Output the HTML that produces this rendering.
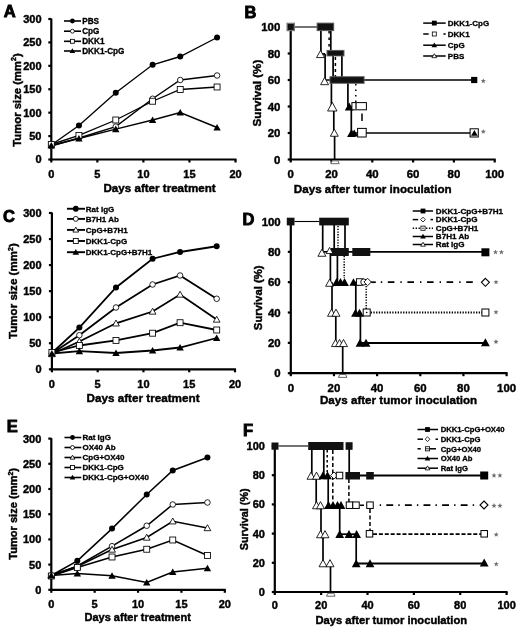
<!DOCTYPE html>
<html><head><meta charset="utf-8"><style>
html,body{margin:0;padding:0;background:#fff;}
svg{display:block;font-family:"Liberation Sans", sans-serif;filter:grayscale(1) blur(0.3px);}
</style></head><body>
<svg width="520" height="632" viewBox="0 0 520 632">
<rect width="520" height="632" fill="#fff"/>
<text x="3.80" y="16.70" font-size="16.5" text-anchor="start" fill="#000" font-weight="bold" stroke="#000" stroke-width="0.9">A</text>
<line x1="51.30" y1="18.50" x2="51.30" y2="160.60" stroke="#000" stroke-width="2.2" stroke-linecap="butt"/>
<line x1="50.20" y1="159.50" x2="236.50" y2="159.50" stroke="#000" stroke-width="2.2" stroke-linecap="butt"/>
<line x1="48.30" y1="159.50" x2="51.30" y2="159.50" stroke="#000" stroke-width="2.2" stroke-linecap="butt"/>
<text x="41.50" y="163.40" font-size="11" text-anchor="end" fill="#000" font-weight="bold" stroke="#000" stroke-width="0.42">0</text>
<line x1="48.30" y1="136.08" x2="51.30" y2="136.08" stroke="#000" stroke-width="2.2" stroke-linecap="butt"/>
<text x="41.50" y="139.98" font-size="11" text-anchor="end" fill="#000" font-weight="bold" stroke="#000" stroke-width="0.42">50</text>
<line x1="48.30" y1="112.67" x2="51.30" y2="112.67" stroke="#000" stroke-width="2.2" stroke-linecap="butt"/>
<text x="41.50" y="116.57" font-size="11" text-anchor="end" fill="#000" font-weight="bold" stroke="#000" stroke-width="0.42">100</text>
<line x1="48.30" y1="89.25" x2="51.30" y2="89.25" stroke="#000" stroke-width="2.2" stroke-linecap="butt"/>
<text x="41.50" y="93.15" font-size="11" text-anchor="end" fill="#000" font-weight="bold" stroke="#000" stroke-width="0.42">150</text>
<line x1="48.30" y1="65.83" x2="51.30" y2="65.83" stroke="#000" stroke-width="2.2" stroke-linecap="butt"/>
<text x="41.50" y="69.73" font-size="11" text-anchor="end" fill="#000" font-weight="bold" stroke="#000" stroke-width="0.42">200</text>
<line x1="48.30" y1="42.42" x2="51.30" y2="42.42" stroke="#000" stroke-width="2.2" stroke-linecap="butt"/>
<text x="41.50" y="46.32" font-size="11" text-anchor="end" fill="#000" font-weight="bold" stroke="#000" stroke-width="0.42">250</text>
<line x1="48.30" y1="19.00" x2="51.30" y2="19.00" stroke="#000" stroke-width="2.2" stroke-linecap="butt"/>
<text x="41.50" y="22.90" font-size="11" text-anchor="end" fill="#000" font-weight="bold" stroke="#000" stroke-width="0.42">300</text>
<line x1="51.30" y1="159.50" x2="51.30" y2="162.50" stroke="#000" stroke-width="2.2" stroke-linecap="butt"/>
<text x="51.30" y="177.70" font-size="11" text-anchor="middle" fill="#000" font-weight="bold" stroke="#000" stroke-width="0.42">0</text>
<line x1="97.35" y1="159.50" x2="97.35" y2="162.50" stroke="#000" stroke-width="2.2" stroke-linecap="butt"/>
<text x="97.35" y="177.70" font-size="11" text-anchor="middle" fill="#000" font-weight="bold" stroke="#000" stroke-width="0.42">5</text>
<line x1="143.40" y1="159.50" x2="143.40" y2="162.50" stroke="#000" stroke-width="2.2" stroke-linecap="butt"/>
<text x="143.40" y="177.70" font-size="11" text-anchor="middle" fill="#000" font-weight="bold" stroke="#000" stroke-width="0.42">10</text>
<line x1="189.45" y1="159.50" x2="189.45" y2="162.50" stroke="#000" stroke-width="2.2" stroke-linecap="butt"/>
<text x="189.45" y="177.70" font-size="11" text-anchor="middle" fill="#000" font-weight="bold" stroke="#000" stroke-width="0.42">15</text>
<line x1="235.50" y1="159.50" x2="235.50" y2="162.50" stroke="#000" stroke-width="2.2" stroke-linecap="butt"/>
<text x="235.50" y="177.70" font-size="11" text-anchor="middle" fill="#000" font-weight="bold" stroke="#000" stroke-width="0.42">20</text>
<text x="103.50" y="191.50" font-size="11.6" text-anchor="start" fill="#000" font-weight="bold" stroke="#000" stroke-width="0.42">Days after treatment</text>
<text x="20.7" y="100.0" font-size="11.3" font-weight="bold" stroke="#000" stroke-width="0.42" text-anchor="middle" transform="rotate(-90 20.7 100.0)">Tumor size (mm<tspan font-size="7" dy="-4.5">2</tspan><tspan dy="4.5">)</tspan></text>
<polyline points="51.30,145.00 78.93,125.50 115.77,92.75 152.61,64.75 180.24,56.50 217.08,37.50" fill="none" stroke="#000" stroke-width="1.35" stroke-linejoin="miter"/>
<polyline points="51.30,146.00 78.93,138.00 115.77,126.60 152.61,98.75 180.24,80.00 217.08,75.50" fill="none" stroke="#000" stroke-width="1.35" stroke-linejoin="miter"/>
<polyline points="51.30,144.50 78.93,135.40 115.77,120.00 152.61,101.25 180.24,89.50 217.08,87.00" fill="none" stroke="#000" stroke-width="1.35" stroke-linejoin="miter"/>
<polyline points="51.30,145.50 78.93,138.50 115.77,129.20 152.61,120.00 180.24,112.50 217.08,127.50" fill="none" stroke="#000" stroke-width="1.35" stroke-linejoin="miter"/>
<circle cx="51.30" cy="145.00" r="3.00" fill="#000"/>
<circle cx="78.93" cy="125.50" r="3.00" fill="#000"/>
<circle cx="115.77" cy="92.75" r="3.00" fill="#000"/>
<circle cx="152.61" cy="64.75" r="3.00" fill="#000"/>
<circle cx="180.24" cy="56.50" r="3.00" fill="#000"/>
<circle cx="217.08" cy="37.50" r="3.00" fill="#000"/>
<circle cx="51.30" cy="146.00" r="2.78" fill="#fff" stroke="#000" stroke-width="0.85"/>
<circle cx="78.93" cy="138.00" r="2.78" fill="#fff" stroke="#000" stroke-width="0.85"/>
<circle cx="115.77" cy="126.60" r="2.78" fill="#fff" stroke="#000" stroke-width="0.85"/>
<circle cx="152.61" cy="98.75" r="2.78" fill="#fff" stroke="#000" stroke-width="0.85"/>
<circle cx="180.24" cy="80.00" r="2.78" fill="#fff" stroke="#000" stroke-width="0.85"/>
<circle cx="217.08" cy="75.50" r="2.78" fill="#fff" stroke="#000" stroke-width="0.85"/>
<rect x="48.32" y="141.53" width="5.95" height="5.95" fill="#fff" stroke="#000" stroke-width="0.85"/>
<rect x="75.95" y="132.43" width="5.95" height="5.95" fill="#fff" stroke="#000" stroke-width="0.85"/>
<rect x="112.79" y="117.02" width="5.95" height="5.95" fill="#fff" stroke="#000" stroke-width="0.85"/>
<rect x="149.63" y="98.27" width="5.95" height="5.95" fill="#fff" stroke="#000" stroke-width="0.85"/>
<rect x="177.27" y="86.52" width="5.95" height="5.95" fill="#fff" stroke="#000" stroke-width="0.85"/>
<rect x="214.10" y="84.02" width="5.95" height="5.95" fill="#fff" stroke="#000" stroke-width="0.85"/>
<polygon points="51.30,141.90 55.00,148.50 47.60,148.50" fill="#000"/>
<polygon points="78.93,134.90 82.63,141.50 75.23,141.50" fill="#000"/>
<polygon points="115.77,125.60 119.47,132.20 112.07,132.20" fill="#000"/>
<polygon points="152.61,116.40 156.31,123.00 148.91,123.00" fill="#000"/>
<polygon points="180.24,108.90 183.94,115.50 176.54,115.50" fill="#000"/>
<polygon points="217.08,123.90 220.78,130.50 213.38,130.50" fill="#000"/>
<line x1="64.00" y1="21.00" x2="81.00" y2="21.00" stroke="#000" stroke-width="1.6" stroke-linecap="butt"/>
<circle cx="72.40" cy="21.00" r="2.40" fill="#000"/>
<text x="82.20" y="23.90" font-size="8.2" text-anchor="start" fill="#000" font-weight="bold" stroke="#000" stroke-width="0.3">PBS</text>
<line x1="64.00" y1="31.20" x2="81.00" y2="31.20" stroke="#000" stroke-width="1.6" stroke-linecap="butt"/>
<circle cx="72.40" cy="31.20" r="1.97" fill="#fff" stroke="#000" stroke-width="0.85"/>
<text x="82.20" y="34.10" font-size="8.2" text-anchor="start" fill="#000" font-weight="bold" stroke="#000" stroke-width="0.3">CpG</text>
<line x1="64.00" y1="41.30" x2="81.00" y2="41.30" stroke="#000" stroke-width="1.6" stroke-linecap="butt"/>
<rect x="70.42" y="39.32" width="3.95" height="3.95" fill="#fff" stroke="#000" stroke-width="0.85"/>
<text x="82.20" y="44.20" font-size="8.2" text-anchor="start" fill="#000" font-weight="bold" stroke="#000" stroke-width="0.3">DKK1</text>
<line x1="64.00" y1="51.00" x2="81.00" y2="51.00" stroke="#000" stroke-width="1.6" stroke-linecap="butt"/>
<polygon points="72.40,48.30 75.20,53.10 69.60,53.10" fill="#000"/>
<text x="82.20" y="53.90" font-size="8.2" text-anchor="start" fill="#000" font-weight="bold" stroke="#000" stroke-width="0.3">DKK1-CpG</text>
<text x="3.00" y="222.30" font-size="16.5" text-anchor="start" fill="#000" font-weight="bold" stroke="#000" stroke-width="0.9">C</text>
<line x1="51.90" y1="212.50" x2="51.90" y2="370.40" stroke="#000" stroke-width="2.2" stroke-linecap="butt"/>
<line x1="50.80" y1="369.30" x2="236.00" y2="369.30" stroke="#000" stroke-width="2.2" stroke-linecap="butt"/>
<line x1="48.90" y1="369.30" x2="51.90" y2="369.30" stroke="#000" stroke-width="2.2" stroke-linecap="butt"/>
<text x="41.50" y="373.20" font-size="11" text-anchor="end" fill="#000" font-weight="bold" stroke="#000" stroke-width="0.42">0</text>
<line x1="48.90" y1="343.25" x2="51.90" y2="343.25" stroke="#000" stroke-width="2.2" stroke-linecap="butt"/>
<text x="41.50" y="347.15" font-size="11" text-anchor="end" fill="#000" font-weight="bold" stroke="#000" stroke-width="0.42">50</text>
<line x1="48.90" y1="317.20" x2="51.90" y2="317.20" stroke="#000" stroke-width="2.2" stroke-linecap="butt"/>
<text x="41.50" y="321.10" font-size="11" text-anchor="end" fill="#000" font-weight="bold" stroke="#000" stroke-width="0.42">100</text>
<line x1="48.90" y1="291.15" x2="51.90" y2="291.15" stroke="#000" stroke-width="2.2" stroke-linecap="butt"/>
<text x="41.50" y="295.05" font-size="11" text-anchor="end" fill="#000" font-weight="bold" stroke="#000" stroke-width="0.42">150</text>
<line x1="48.90" y1="265.10" x2="51.90" y2="265.10" stroke="#000" stroke-width="2.2" stroke-linecap="butt"/>
<text x="41.50" y="269.00" font-size="11" text-anchor="end" fill="#000" font-weight="bold" stroke="#000" stroke-width="0.42">200</text>
<line x1="48.90" y1="239.05" x2="51.90" y2="239.05" stroke="#000" stroke-width="2.2" stroke-linecap="butt"/>
<text x="41.50" y="242.95" font-size="11" text-anchor="end" fill="#000" font-weight="bold" stroke="#000" stroke-width="0.42">250</text>
<line x1="48.90" y1="213.00" x2="51.90" y2="213.00" stroke="#000" stroke-width="2.2" stroke-linecap="butt"/>
<text x="41.50" y="216.90" font-size="11" text-anchor="end" fill="#000" font-weight="bold" stroke="#000" stroke-width="0.42">300</text>
<line x1="51.90" y1="369.30" x2="51.90" y2="372.30" stroke="#000" stroke-width="2.2" stroke-linecap="butt"/>
<text x="51.90" y="387.70" font-size="11" text-anchor="middle" fill="#000" font-weight="bold" stroke="#000" stroke-width="0.42">0</text>
<line x1="97.67" y1="369.30" x2="97.67" y2="372.30" stroke="#000" stroke-width="2.2" stroke-linecap="butt"/>
<text x="97.67" y="387.70" font-size="11" text-anchor="middle" fill="#000" font-weight="bold" stroke="#000" stroke-width="0.42">5</text>
<line x1="143.45" y1="369.30" x2="143.45" y2="372.30" stroke="#000" stroke-width="2.2" stroke-linecap="butt"/>
<text x="143.45" y="387.70" font-size="11" text-anchor="middle" fill="#000" font-weight="bold" stroke="#000" stroke-width="0.42">10</text>
<line x1="189.22" y1="369.30" x2="189.22" y2="372.30" stroke="#000" stroke-width="2.2" stroke-linecap="butt"/>
<text x="189.22" y="387.70" font-size="11" text-anchor="middle" fill="#000" font-weight="bold" stroke="#000" stroke-width="0.42">15</text>
<line x1="235.00" y1="369.30" x2="235.00" y2="372.30" stroke="#000" stroke-width="2.2" stroke-linecap="butt"/>
<text x="235.00" y="387.70" font-size="11" text-anchor="middle" fill="#000" font-weight="bold" stroke="#000" stroke-width="0.42">20</text>
<text x="86.50" y="401.50" font-size="11.7" text-anchor="start" fill="#000" font-weight="bold" stroke="#000" stroke-width="0.42">Days after treatment</text>
<text x="17.2" y="291.1" font-size="11.6" font-weight="bold" stroke="#000" stroke-width="0.42" text-anchor="middle" transform="rotate(-90 17.2 291.1)">Tumor size (mm<tspan font-size="7" dy="-4.5">2</tspan><tspan dy="4.5">)</tspan></text>
<polyline points="51.90,353.00 79.36,327.60 115.99,287.50 152.60,258.75 180.07,252.00 216.69,246.25" fill="none" stroke="#000" stroke-width="1.8" stroke-linejoin="miter"/>
<polyline points="51.90,353.50 79.36,335.20 115.99,307.50 152.60,284.50 180.07,275.50 216.69,298.75" fill="none" stroke="#000" stroke-width="1.8" stroke-linejoin="miter"/>
<polyline points="51.90,354.00 79.36,341.50 115.99,323.30 152.60,311.50 180.07,294.50 216.69,319.50" fill="none" stroke="#000" stroke-width="1.8" stroke-linejoin="miter"/>
<polyline points="51.90,352.50 79.36,345.50 115.99,340.40 152.60,333.20 180.07,322.70 216.69,330.00" fill="none" stroke="#000" stroke-width="1.8" stroke-linejoin="miter"/>
<polyline points="51.90,353.50 79.36,351.20 115.99,353.00 152.60,350.50 180.07,347.50 216.69,338.00" fill="none" stroke="#000" stroke-width="1.8" stroke-linejoin="miter"/>
<circle cx="51.90" cy="353.00" r="3.00" fill="#000"/>
<circle cx="79.36" cy="327.60" r="3.00" fill="#000"/>
<circle cx="115.99" cy="287.50" r="3.00" fill="#000"/>
<circle cx="152.60" cy="258.75" r="3.00" fill="#000"/>
<circle cx="180.07" cy="252.00" r="3.00" fill="#000"/>
<circle cx="216.69" cy="246.25" r="3.00" fill="#000"/>
<circle cx="51.90" cy="353.50" r="2.78" fill="#fff" stroke="#000" stroke-width="0.85"/>
<circle cx="79.36" cy="335.20" r="2.78" fill="#fff" stroke="#000" stroke-width="0.85"/>
<circle cx="115.99" cy="307.50" r="2.78" fill="#fff" stroke="#000" stroke-width="0.85"/>
<circle cx="152.60" cy="284.50" r="2.78" fill="#fff" stroke="#000" stroke-width="0.85"/>
<circle cx="180.07" cy="275.50" r="2.78" fill="#fff" stroke="#000" stroke-width="0.85"/>
<circle cx="216.69" cy="298.75" r="2.78" fill="#fff" stroke="#000" stroke-width="0.85"/>
<polygon points="51.90,350.73 55.27,356.67 48.52,356.67" fill="#fff" stroke="#000" stroke-width="0.85"/>
<polygon points="79.36,338.23 82.74,344.17 75.99,344.17" fill="#fff" stroke="#000" stroke-width="0.85"/>
<polygon points="115.99,320.03 119.36,325.97 112.61,325.97" fill="#fff" stroke="#000" stroke-width="0.85"/>
<polygon points="152.60,308.23 155.98,314.17 149.23,314.17" fill="#fff" stroke="#000" stroke-width="0.85"/>
<polygon points="180.07,291.23 183.45,297.17 176.70,297.17" fill="#fff" stroke="#000" stroke-width="0.85"/>
<polygon points="216.69,316.23 220.06,322.17 213.31,322.17" fill="#fff" stroke="#000" stroke-width="0.85"/>
<rect x="48.92" y="349.53" width="5.95" height="5.95" fill="#fff" stroke="#000" stroke-width="0.85"/>
<rect x="76.39" y="342.53" width="5.95" height="5.95" fill="#fff" stroke="#000" stroke-width="0.85"/>
<rect x="113.01" y="337.43" width="5.95" height="5.95" fill="#fff" stroke="#000" stroke-width="0.85"/>
<rect x="149.63" y="330.23" width="5.95" height="5.95" fill="#fff" stroke="#000" stroke-width="0.85"/>
<rect x="177.10" y="319.73" width="5.95" height="5.95" fill="#fff" stroke="#000" stroke-width="0.85"/>
<rect x="213.72" y="327.03" width="5.95" height="5.95" fill="#fff" stroke="#000" stroke-width="0.85"/>
<polygon points="51.90,349.90 55.60,356.50 48.20,356.50" fill="#000"/>
<polygon points="79.36,347.60 83.06,354.20 75.66,354.20" fill="#000"/>
<polygon points="115.99,349.40 119.69,356.00 112.29,356.00" fill="#000"/>
<polygon points="152.60,346.90 156.31,353.50 148.90,353.50" fill="#000"/>
<polygon points="180.07,343.90 183.77,350.50 176.37,350.50" fill="#000"/>
<polygon points="216.69,334.40 220.39,341.00 212.99,341.00" fill="#000"/>
<line x1="67.00" y1="208.75" x2="85.00" y2="208.75" stroke="#000" stroke-width="1.9" stroke-linecap="butt"/>
<circle cx="75.80" cy="208.75" r="2.90" fill="#000"/>
<text x="85.80" y="211.65" font-size="8" text-anchor="start" fill="#000" font-weight="bold" stroke="#000" stroke-width="0.3">Rat IgG</text>
<line x1="67.00" y1="218.90" x2="85.00" y2="218.90" stroke="#000" stroke-width="1.9" stroke-linecap="butt"/>
<circle cx="75.80" cy="218.90" r="2.48" fill="#fff" stroke="#000" stroke-width="0.85"/>
<text x="85.80" y="221.80" font-size="8" text-anchor="start" fill="#000" font-weight="bold" stroke="#000" stroke-width="0.3">B7H1 Ab</text>
<line x1="67.00" y1="229.90" x2="85.00" y2="229.90" stroke="#000" stroke-width="1.9" stroke-linecap="butt"/>
<polygon points="75.80,227.12 78.68,232.07 72.92,232.07" fill="#fff" stroke="#000" stroke-width="0.85"/>
<text x="85.80" y="232.80" font-size="8" text-anchor="start" fill="#000" font-weight="bold" stroke="#000" stroke-width="0.3">CpG+B7H1</text>
<line x1="67.00" y1="241.00" x2="85.00" y2="241.00" stroke="#000" stroke-width="1.9" stroke-linecap="butt"/>
<rect x="73.32" y="238.53" width="4.95" height="4.95" fill="#fff" stroke="#000" stroke-width="0.85"/>
<text x="85.80" y="243.90" font-size="8" text-anchor="start" fill="#000" font-weight="bold" stroke="#000" stroke-width="0.3">DKK1-CpG</text>
<line x1="67.00" y1="252.20" x2="85.00" y2="252.20" stroke="#000" stroke-width="1.9" stroke-linecap="butt"/>
<polygon points="75.80,249.00 79.10,254.80 72.50,254.80" fill="#000"/>
<text x="85.80" y="255.10" font-size="8" text-anchor="start" fill="#000" font-weight="bold" stroke="#000" stroke-width="0.3">DKK1-CpG+B7H1</text>
<text x="6.80" y="432.20" font-size="16.5" text-anchor="start" fill="#000" font-weight="bold" stroke="#000" stroke-width="0.9">E</text>
<line x1="51.30" y1="438.10" x2="51.30" y2="590.90" stroke="#000" stroke-width="2.2" stroke-linecap="butt"/>
<line x1="50.20" y1="589.80" x2="225.80" y2="589.80" stroke="#000" stroke-width="2.2" stroke-linecap="butt"/>
<line x1="48.30" y1="589.80" x2="51.30" y2="589.80" stroke="#000" stroke-width="2.2" stroke-linecap="butt"/>
<text x="41.30" y="593.70" font-size="11" text-anchor="end" fill="#000" font-weight="bold" stroke="#000" stroke-width="0.42">0</text>
<line x1="48.30" y1="564.60" x2="51.30" y2="564.60" stroke="#000" stroke-width="2.2" stroke-linecap="butt"/>
<text x="41.30" y="568.50" font-size="11" text-anchor="end" fill="#000" font-weight="bold" stroke="#000" stroke-width="0.42">50</text>
<line x1="48.30" y1="539.40" x2="51.30" y2="539.40" stroke="#000" stroke-width="2.2" stroke-linecap="butt"/>
<text x="41.30" y="543.30" font-size="11" text-anchor="end" fill="#000" font-weight="bold" stroke="#000" stroke-width="0.42">100</text>
<line x1="48.30" y1="514.20" x2="51.30" y2="514.20" stroke="#000" stroke-width="2.2" stroke-linecap="butt"/>
<text x="41.30" y="518.10" font-size="11" text-anchor="end" fill="#000" font-weight="bold" stroke="#000" stroke-width="0.42">150</text>
<line x1="48.30" y1="489.00" x2="51.30" y2="489.00" stroke="#000" stroke-width="2.2" stroke-linecap="butt"/>
<text x="41.30" y="492.90" font-size="11" text-anchor="end" fill="#000" font-weight="bold" stroke="#000" stroke-width="0.42">200</text>
<line x1="48.30" y1="463.80" x2="51.30" y2="463.80" stroke="#000" stroke-width="2.2" stroke-linecap="butt"/>
<text x="41.30" y="467.70" font-size="11" text-anchor="end" fill="#000" font-weight="bold" stroke="#000" stroke-width="0.42">250</text>
<line x1="48.30" y1="438.60" x2="51.30" y2="438.60" stroke="#000" stroke-width="2.2" stroke-linecap="butt"/>
<text x="41.30" y="442.50" font-size="11" text-anchor="end" fill="#000" font-weight="bold" stroke="#000" stroke-width="0.42">300</text>
<line x1="51.30" y1="589.80" x2="51.30" y2="592.80" stroke="#000" stroke-width="2.2" stroke-linecap="butt"/>
<text x="51.30" y="608.20" font-size="11" text-anchor="middle" fill="#000" font-weight="bold" stroke="#000" stroke-width="0.42">0</text>
<line x1="94.67" y1="589.80" x2="94.67" y2="592.80" stroke="#000" stroke-width="2.2" stroke-linecap="butt"/>
<text x="94.67" y="608.20" font-size="11" text-anchor="middle" fill="#000" font-weight="bold" stroke="#000" stroke-width="0.42">5</text>
<line x1="138.05" y1="589.80" x2="138.05" y2="592.80" stroke="#000" stroke-width="2.2" stroke-linecap="butt"/>
<text x="138.05" y="608.20" font-size="11" text-anchor="middle" fill="#000" font-weight="bold" stroke="#000" stroke-width="0.42">10</text>
<line x1="181.43" y1="589.80" x2="181.43" y2="592.80" stroke="#000" stroke-width="2.2" stroke-linecap="butt"/>
<text x="181.43" y="608.20" font-size="11" text-anchor="middle" fill="#000" font-weight="bold" stroke="#000" stroke-width="0.42">15</text>
<line x1="224.80" y1="589.80" x2="224.80" y2="592.80" stroke="#000" stroke-width="2.2" stroke-linecap="butt"/>
<text x="224.80" y="608.20" font-size="11" text-anchor="middle" fill="#000" font-weight="bold" stroke="#000" stroke-width="0.42">20</text>
<text x="84.50" y="621.20" font-size="11.0" text-anchor="start" fill="#000" font-weight="bold" stroke="#000" stroke-width="0.42">Days after treatment</text>
<text x="17.4" y="513.9" font-size="11.1" font-weight="bold" stroke="#000" stroke-width="0.42" text-anchor="middle" transform="rotate(-90 17.4 513.9)">Tumor size (mm<tspan font-size="7" dy="-4.5">2</tspan><tspan dy="4.5">)</tspan></text>
<polyline points="51.30,575.50 77.32,560.80 112.03,528.60 146.72,494.50 172.75,470.50 207.45,457.50" fill="none" stroke="#000" stroke-width="1.55" stroke-linejoin="miter"/>
<polyline points="51.30,576.00 77.32,566.00 112.03,546.20 146.72,525.75 172.75,504.50 207.45,502.50" fill="none" stroke="#000" stroke-width="1.55" stroke-linejoin="miter"/>
<polyline points="51.30,575.00 77.32,566.50 112.03,549.50 146.72,537.50 172.75,521.25 207.45,528.00" fill="none" stroke="#000" stroke-width="1.55" stroke-linejoin="miter"/>
<polyline points="51.30,576.00 77.32,567.50 112.03,557.00 146.72,549.25 172.75,540.00 207.45,555.50" fill="none" stroke="#000" stroke-width="1.55" stroke-linejoin="miter"/>
<polyline points="51.30,575.50 77.32,573.50 112.03,575.80 146.72,582.50 172.75,572.00 207.45,568.25" fill="none" stroke="#000" stroke-width="1.55" stroke-linejoin="miter"/>
<circle cx="51.30" cy="575.50" r="3.00" fill="#000"/>
<circle cx="77.32" cy="560.80" r="3.00" fill="#000"/>
<circle cx="112.03" cy="528.60" r="3.00" fill="#000"/>
<circle cx="146.72" cy="494.50" r="3.00" fill="#000"/>
<circle cx="172.75" cy="470.50" r="3.00" fill="#000"/>
<circle cx="207.45" cy="457.50" r="3.00" fill="#000"/>
<circle cx="51.30" cy="576.00" r="2.78" fill="#fff" stroke="#000" stroke-width="0.85"/>
<circle cx="77.32" cy="566.00" r="2.78" fill="#fff" stroke="#000" stroke-width="0.85"/>
<circle cx="112.03" cy="546.20" r="2.78" fill="#fff" stroke="#000" stroke-width="0.85"/>
<circle cx="146.72" cy="525.75" r="2.78" fill="#fff" stroke="#000" stroke-width="0.85"/>
<circle cx="172.75" cy="504.50" r="2.78" fill="#fff" stroke="#000" stroke-width="0.85"/>
<circle cx="207.45" cy="502.50" r="2.78" fill="#fff" stroke="#000" stroke-width="0.85"/>
<polygon points="51.30,571.73 54.67,577.68 47.92,577.68" fill="#fff" stroke="#000" stroke-width="0.85"/>
<polygon points="77.32,563.23 80.70,569.18 73.95,569.18" fill="#fff" stroke="#000" stroke-width="0.85"/>
<polygon points="112.03,546.23 115.40,552.18 108.65,552.18" fill="#fff" stroke="#000" stroke-width="0.85"/>
<polygon points="146.72,534.23 150.10,540.18 143.35,540.18" fill="#fff" stroke="#000" stroke-width="0.85"/>
<polygon points="172.75,517.98 176.12,523.93 169.38,523.93" fill="#fff" stroke="#000" stroke-width="0.85"/>
<polygon points="207.45,524.73 210.82,530.68 204.07,530.68" fill="#fff" stroke="#000" stroke-width="0.85"/>
<rect x="48.32" y="573.02" width="5.95" height="5.95" fill="#fff" stroke="#000" stroke-width="0.85"/>
<rect x="74.35" y="564.52" width="5.95" height="5.95" fill="#fff" stroke="#000" stroke-width="0.85"/>
<rect x="109.05" y="554.02" width="5.95" height="5.95" fill="#fff" stroke="#000" stroke-width="0.85"/>
<rect x="143.75" y="546.27" width="5.95" height="5.95" fill="#fff" stroke="#000" stroke-width="0.85"/>
<rect x="169.78" y="537.02" width="5.95" height="5.95" fill="#fff" stroke="#000" stroke-width="0.85"/>
<rect x="204.47" y="552.52" width="5.95" height="5.95" fill="#fff" stroke="#000" stroke-width="0.85"/>
<polygon points="51.30,571.90 55.00,578.50 47.60,578.50" fill="#000"/>
<polygon points="77.32,569.90 81.02,576.50 73.62,576.50" fill="#000"/>
<polygon points="112.03,572.20 115.73,578.80 108.33,578.80" fill="#000"/>
<polygon points="146.72,578.90 150.43,585.50 143.02,585.50" fill="#000"/>
<polygon points="172.75,568.40 176.45,575.00 169.05,575.00" fill="#000"/>
<polygon points="207.45,564.65 211.15,571.25 203.75,571.25" fill="#000"/>
<line x1="64.50" y1="437.50" x2="81.30" y2="437.50" stroke="#000" stroke-width="1.6" stroke-linecap="butt"/>
<circle cx="72.50" cy="437.50" r="2.40" fill="#000"/>
<text x="82.50" y="440.40" font-size="8" text-anchor="start" fill="#000" font-weight="bold" stroke="#000" stroke-width="0.3">Rat IgG</text>
<line x1="64.50" y1="447.50" x2="81.30" y2="447.50" stroke="#000" stroke-width="1.6" stroke-linecap="butt"/>
<circle cx="72.50" cy="447.50" r="1.97" fill="#fff" stroke="#000" stroke-width="0.85"/>
<text x="82.50" y="450.40" font-size="8" text-anchor="start" fill="#000" font-weight="bold" stroke="#000" stroke-width="0.3">OX40 Ab</text>
<line x1="64.50" y1="457.50" x2="81.30" y2="457.50" stroke="#000" stroke-width="1.6" stroke-linecap="butt"/>
<polygon points="72.50,455.23 74.88,459.17 70.12,459.17" fill="#fff" stroke="#000" stroke-width="0.85"/>
<text x="82.50" y="460.40" font-size="8" text-anchor="start" fill="#000" font-weight="bold" stroke="#000" stroke-width="0.3">CpG+OX40</text>
<line x1="64.50" y1="467.50" x2="81.30" y2="467.50" stroke="#000" stroke-width="1.6" stroke-linecap="butt"/>
<rect x="70.52" y="465.53" width="3.95" height="3.95" fill="#fff" stroke="#000" stroke-width="0.85"/>
<text x="82.50" y="470.40" font-size="8" text-anchor="start" fill="#000" font-weight="bold" stroke="#000" stroke-width="0.3">DKK1-CpG</text>
<line x1="64.50" y1="477.50" x2="81.30" y2="477.50" stroke="#000" stroke-width="1.6" stroke-linecap="butt"/>
<polygon points="72.50,474.80 75.30,479.60 69.70,479.60" fill="#000"/>
<text x="82.50" y="480.40" font-size="8" text-anchor="start" fill="#000" font-weight="bold" stroke="#000" stroke-width="0.3">DKK1-CpG+OX40</text>
<text x="244.50" y="18.00" font-size="16.5" text-anchor="start" fill="#000" font-weight="bold" stroke="#000" stroke-width="0.9">B</text>
<line x1="290.70" y1="26.50" x2="290.70" y2="160.60" stroke="#000" stroke-width="2.2" stroke-linecap="butt"/>
<line x1="289.60" y1="159.50" x2="495.70" y2="159.50" stroke="#000" stroke-width="2.2" stroke-linecap="butt"/>
<line x1="287.70" y1="159.50" x2="290.70" y2="159.50" stroke="#000" stroke-width="2.2" stroke-linecap="butt"/>
<text x="280.30" y="163.54" font-size="11.4" text-anchor="end" fill="#000" font-weight="bold" stroke="#000" stroke-width="0.42">0</text>
<line x1="287.70" y1="133.00" x2="290.70" y2="133.00" stroke="#000" stroke-width="2.2" stroke-linecap="butt"/>
<text x="280.30" y="137.04" font-size="11.4" text-anchor="end" fill="#000" font-weight="bold" stroke="#000" stroke-width="0.42">20</text>
<line x1="287.70" y1="106.50" x2="290.70" y2="106.50" stroke="#000" stroke-width="2.2" stroke-linecap="butt"/>
<text x="280.30" y="110.54" font-size="11.4" text-anchor="end" fill="#000" font-weight="bold" stroke="#000" stroke-width="0.42">40</text>
<line x1="287.70" y1="80.00" x2="290.70" y2="80.00" stroke="#000" stroke-width="2.2" stroke-linecap="butt"/>
<text x="280.30" y="84.04" font-size="11.4" text-anchor="end" fill="#000" font-weight="bold" stroke="#000" stroke-width="0.42">60</text>
<line x1="287.70" y1="53.50" x2="290.70" y2="53.50" stroke="#000" stroke-width="2.2" stroke-linecap="butt"/>
<text x="280.30" y="57.54" font-size="11.4" text-anchor="end" fill="#000" font-weight="bold" stroke="#000" stroke-width="0.42">80</text>
<line x1="287.70" y1="27.00" x2="290.70" y2="27.00" stroke="#000" stroke-width="2.2" stroke-linecap="butt"/>
<text x="280.30" y="31.04" font-size="11.4" text-anchor="end" fill="#000" font-weight="bold" stroke="#000" stroke-width="0.42">100</text>
<line x1="290.70" y1="159.50" x2="290.70" y2="162.50" stroke="#000" stroke-width="2.2" stroke-linecap="butt"/>
<text x="290.70" y="177.90" font-size="11.4" text-anchor="middle" fill="#000" font-weight="bold" stroke="#000" stroke-width="0.42">0</text>
<line x1="331.50" y1="159.50" x2="331.50" y2="162.50" stroke="#000" stroke-width="2.2" stroke-linecap="butt"/>
<text x="331.50" y="177.90" font-size="11.4" text-anchor="middle" fill="#000" font-weight="bold" stroke="#000" stroke-width="0.42">20</text>
<line x1="372.30" y1="159.50" x2="372.30" y2="162.50" stroke="#000" stroke-width="2.2" stroke-linecap="butt"/>
<text x="372.30" y="177.90" font-size="11.4" text-anchor="middle" fill="#000" font-weight="bold" stroke="#000" stroke-width="0.42">40</text>
<line x1="413.10" y1="159.50" x2="413.10" y2="162.50" stroke="#000" stroke-width="2.2" stroke-linecap="butt"/>
<text x="413.10" y="177.90" font-size="11.4" text-anchor="middle" fill="#000" font-weight="bold" stroke="#000" stroke-width="0.42">60</text>
<line x1="453.90" y1="159.50" x2="453.90" y2="162.50" stroke="#000" stroke-width="2.2" stroke-linecap="butt"/>
<text x="453.90" y="177.90" font-size="11.4" text-anchor="middle" fill="#000" font-weight="bold" stroke="#000" stroke-width="0.42">80</text>
<line x1="494.70" y1="159.50" x2="494.70" y2="162.50" stroke="#000" stroke-width="2.2" stroke-linecap="butt"/>
<text x="494.70" y="177.90" font-size="11.4" text-anchor="middle" fill="#000" font-weight="bold" stroke="#000" stroke-width="0.42">100</text>
<text x="293.80" y="192.80" font-size="11.65" text-anchor="start" fill="#000" font-weight="bold" stroke="#000" stroke-width="0.42">Days after tumor inoculation</text>
<text x="261.0" y="93.1" font-size="11.7" font-weight="bold" stroke="#000" stroke-width="0.42" text-anchor="middle" transform="rotate(-90 261.0 93.1)">Survival (%)</text>
<line x1="295.00" y1="27.00" x2="318.00" y2="27.00" stroke="#000" stroke-width="1.1" stroke-linecap="butt"/>
<line x1="320.90" y1="27.00" x2="320.90" y2="53.90" stroke="#000" stroke-width="1.7" stroke-linecap="butt"/>
<line x1="320.90" y1="53.90" x2="325.10" y2="53.90" stroke="#000" stroke-width="1.7" stroke-linecap="butt"/>
<line x1="325.10" y1="53.90" x2="325.10" y2="80.00" stroke="#000" stroke-width="1.7" stroke-linecap="butt"/>
<line x1="330.80" y1="27.00" x2="330.80" y2="53.20" stroke="#000" stroke-width="1.7" stroke-linecap="butt"/>
<line x1="333.10" y1="53.20" x2="333.10" y2="80.00" stroke="#000" stroke-width="1.7" stroke-linecap="butt"/>
<line x1="341.90" y1="53.20" x2="341.90" y2="80.00" stroke="#000" stroke-width="1.7" stroke-linecap="butt"/>
<line x1="331.40" y1="80.00" x2="331.40" y2="106.50" stroke="#000" stroke-width="1.7" stroke-linecap="butt"/>
<line x1="331.40" y1="106.50" x2="333.80" y2="106.50" stroke="#000" stroke-width="1.7" stroke-linecap="butt"/>
<line x1="333.80" y1="106.50" x2="333.80" y2="133.00" stroke="#000" stroke-width="1.7" stroke-linecap="butt"/>
<line x1="333.80" y1="133.00" x2="334.60" y2="133.00" stroke="#000" stroke-width="1.7" stroke-linecap="butt"/>
<line x1="334.60" y1="133.00" x2="334.60" y2="159.50" stroke="#000" stroke-width="1.7" stroke-linecap="butt"/>
<line x1="347.90" y1="80.00" x2="347.90" y2="106.50" stroke="#000" stroke-width="1.7" stroke-linecap="butt"/>
<line x1="347.90" y1="106.50" x2="351.30" y2="106.50" stroke="#000" stroke-width="1.7" stroke-linecap="butt"/>
<line x1="351.30" y1="106.50" x2="351.30" y2="133.00" stroke="#000" stroke-width="1.7" stroke-linecap="butt"/>
<line x1="329.10" y1="31.00" x2="329.10" y2="50.00" stroke="#000" stroke-width="1.5" stroke-linecap="butt" stroke-dasharray="2.5 4"/>
<line x1="335.40" y1="57.00" x2="335.40" y2="77.00" stroke="#000" stroke-width="1.5" stroke-linecap="butt" stroke-dasharray="3 3"/>
<line x1="355.80" y1="84.00" x2="355.80" y2="102.00" stroke="#000" stroke-width="1.5" stroke-linecap="butt" stroke-dasharray="1.5 4"/>
<line x1="362.00" y1="113.50" x2="362.00" y2="121.00" stroke="#000" stroke-width="1.5" stroke-linecap="butt"/>
<line x1="325.00" y1="80.00" x2="474.50" y2="80.00" stroke="#000" stroke-width="1.5" stroke-linecap="butt"/>
<line x1="351.30" y1="133.00" x2="474.50" y2="133.00" stroke="#000" stroke-width="1.5" stroke-linecap="butt"/>
<rect x="286.50" y="22.70" width="8.50" height="8.50" fill="#777"/>
<rect x="287.80" y="24.00" width="5.90" height="5.90" fill="#111"/>
<rect x="316.60" y="22.60" width="17.60" height="8.50" fill="#666"/>
<rect x="317.60" y="23.60" width="15.60" height="6.50" fill="#111"/>
<rect x="326.50" y="49.90" width="18.00" height="6.50" fill="#666"/>
<rect x="327.50" y="50.90" width="16.00" height="4.70" fill="#111"/>
<rect x="329.50" y="76.20" width="35.10" height="7.60" fill="#555"/>
<rect x="330.50" y="77.20" width="33.10" height="5.60" fill="#111"/>
<polygon points="320.50,50.42 324.47,57.58 316.53,57.58" fill="#fff" stroke="#000" stroke-width="0.85"/>
<polygon points="324.60,77.53 328.57,84.68 320.63,84.68" fill="#fff" stroke="#000" stroke-width="0.85"/>
<polygon points="332.30,102.38 337.02,111.03 327.58,111.03" fill="#fff" stroke="#000" stroke-width="0.85"/>
<polygon points="334.30,129.12 338.27,136.27 330.33,136.27" fill="#fff" stroke="#000" stroke-width="0.85"/>
<polygon points="332.00,160.80 338.00,160.80 339.20,163.70 330.80,163.70" fill="#fff" stroke="#555" stroke-width="0.9"/>
<polygon points="349.20,102.50 353.60,110.50 344.80,110.50" fill="#000"/>
<polygon points="351.50,128.90 355.90,136.90 347.10,136.90" fill="#000"/>
<polygon points="354.20,129.40 358.10,136.40 350.30,136.40" fill="#000"/>
<rect x="351.40" y="102.10" width="15.50" height="8.20" fill="#000"/>
<rect x="352.40" y="103.10" width="13.50" height="6.20" fill="#fff"/>
<line x1="356.00" y1="103.00" x2="356.00" y2="109.00" stroke="#000" stroke-width="1.2" stroke-linecap="butt"/>
<rect x="357.60" y="128.40" width="8.60" height="8.60" fill="#fff" stroke="#000" stroke-width="1.0"/>
<rect x="471.10" y="76.90" width="6.20" height="6.20" fill="#000"/>
<rect x="470.10" y="128.80" width="8.20" height="8.20" fill="#fff" stroke="#000" stroke-width="1.0"/>
<polygon points="474.40,130.00 477.70,135.80 471.10,135.80" fill="#000"/>
<polygon points="483.30,78.30 483.98,80.07 485.87,80.17 484.39,81.36 484.89,83.18 483.30,82.15 481.71,83.18 482.21,81.36 480.73,80.17 482.62,80.07" fill="#6e6e6e"/>
<polygon points="483.30,128.90 483.98,130.67 485.87,130.77 484.39,131.96 484.89,133.78 483.30,132.75 481.71,133.78 482.21,131.96 480.73,130.77 482.62,130.67" fill="#6e6e6e"/>
<line x1="423.20" y1="23.10" x2="445.70" y2="23.10" stroke="#000" stroke-width="1.5" stroke-linecap="butt"/>
<rect x="431.90" y="20.70" width="4.80" height="4.80" fill="#000"/>
<text x="447.80" y="25.90" font-size="8" text-anchor="start" fill="#000" font-weight="bold" stroke="#000" stroke-width="0.3">DKK1-CpG</text>
<line x1="423.20" y1="34.00" x2="428.70" y2="34.00" stroke="#000" stroke-width="1.5" stroke-linecap="butt"/>
<line x1="443.40" y1="34.00" x2="445.70" y2="34.00" stroke="#000" stroke-width="1.5" stroke-linecap="butt"/>
<rect x="432.30" y="32.00" width="4.00" height="4.00" fill="#fff" stroke="#000" stroke-width="0.8"/>
<text x="447.80" y="36.80" font-size="8" text-anchor="start" fill="#000" font-weight="bold" stroke="#000" stroke-width="0.3">DKK1</text>
<line x1="423.20" y1="45.20" x2="445.70" y2="45.20" stroke="#000" stroke-width="1.5" stroke-linecap="butt"/>
<polygon points="434.30,42.50 437.10,47.30 431.50,47.30" fill="#000"/>
<text x="447.80" y="48.00" font-size="8" text-anchor="start" fill="#000" font-weight="bold" stroke="#000" stroke-width="0.3">CpG</text>
<line x1="423.20" y1="56.00" x2="445.70" y2="56.00" stroke="#000" stroke-width="1.5" stroke-linecap="butt"/>
<polygon points="434.30,53.70 436.70,57.70 431.90,57.70" fill="#fff" stroke="#000" stroke-width="0.8"/>
<text x="447.80" y="58.80" font-size="8" text-anchor="start" fill="#000" font-weight="bold" stroke="#000" stroke-width="0.3">PBS</text>
<text x="242.50" y="225.00" font-size="16.5" text-anchor="start" fill="#000" font-weight="bold" stroke="#000" stroke-width="0.9">D</text>
<line x1="290.80" y1="221.00" x2="290.80" y2="374.30" stroke="#000" stroke-width="2.2" stroke-linecap="butt"/>
<line x1="289.70" y1="373.20" x2="507.60" y2="373.20" stroke="#000" stroke-width="2.2" stroke-linecap="butt"/>
<line x1="287.80" y1="373.20" x2="290.80" y2="373.20" stroke="#000" stroke-width="2.2" stroke-linecap="butt"/>
<text x="280.70" y="377.24" font-size="11.4" text-anchor="end" fill="#000" font-weight="bold" stroke="#000" stroke-width="0.42">0</text>
<line x1="287.80" y1="342.86" x2="290.80" y2="342.86" stroke="#000" stroke-width="2.2" stroke-linecap="butt"/>
<text x="280.70" y="346.90" font-size="11.4" text-anchor="end" fill="#000" font-weight="bold" stroke="#000" stroke-width="0.42">20</text>
<line x1="287.80" y1="312.52" x2="290.80" y2="312.52" stroke="#000" stroke-width="2.2" stroke-linecap="butt"/>
<text x="280.70" y="316.56" font-size="11.4" text-anchor="end" fill="#000" font-weight="bold" stroke="#000" stroke-width="0.42">40</text>
<line x1="287.80" y1="282.18" x2="290.80" y2="282.18" stroke="#000" stroke-width="2.2" stroke-linecap="butt"/>
<text x="280.70" y="286.22" font-size="11.4" text-anchor="end" fill="#000" font-weight="bold" stroke="#000" stroke-width="0.42">60</text>
<line x1="287.80" y1="251.84" x2="290.80" y2="251.84" stroke="#000" stroke-width="2.2" stroke-linecap="butt"/>
<text x="280.70" y="255.88" font-size="11.4" text-anchor="end" fill="#000" font-weight="bold" stroke="#000" stroke-width="0.42">80</text>
<line x1="287.80" y1="221.50" x2="290.80" y2="221.50" stroke="#000" stroke-width="2.2" stroke-linecap="butt"/>
<text x="280.70" y="225.54" font-size="11.4" text-anchor="end" fill="#000" font-weight="bold" stroke="#000" stroke-width="0.42">100</text>
<line x1="290.80" y1="373.20" x2="290.80" y2="376.20" stroke="#000" stroke-width="2.2" stroke-linecap="butt"/>
<text x="290.80" y="391.70" font-size="11.4" text-anchor="middle" fill="#000" font-weight="bold" stroke="#000" stroke-width="0.42">0</text>
<line x1="333.96" y1="373.20" x2="333.96" y2="376.20" stroke="#000" stroke-width="2.2" stroke-linecap="butt"/>
<text x="333.96" y="391.70" font-size="11.4" text-anchor="middle" fill="#000" font-weight="bold" stroke="#000" stroke-width="0.42">20</text>
<line x1="377.12" y1="373.20" x2="377.12" y2="376.20" stroke="#000" stroke-width="2.2" stroke-linecap="butt"/>
<text x="377.12" y="391.70" font-size="11.4" text-anchor="middle" fill="#000" font-weight="bold" stroke="#000" stroke-width="0.42">40</text>
<line x1="420.28" y1="373.20" x2="420.28" y2="376.20" stroke="#000" stroke-width="2.2" stroke-linecap="butt"/>
<text x="420.28" y="391.70" font-size="11.4" text-anchor="middle" fill="#000" font-weight="bold" stroke="#000" stroke-width="0.42">60</text>
<line x1="463.44" y1="373.20" x2="463.44" y2="376.20" stroke="#000" stroke-width="2.2" stroke-linecap="butt"/>
<text x="463.44" y="391.70" font-size="11.4" text-anchor="middle" fill="#000" font-weight="bold" stroke="#000" stroke-width="0.42">80</text>
<line x1="506.60" y1="373.20" x2="506.60" y2="376.20" stroke="#000" stroke-width="2.2" stroke-linecap="butt"/>
<text x="506.60" y="391.70" font-size="11.4" text-anchor="middle" fill="#000" font-weight="bold" stroke="#000" stroke-width="0.42">100</text>
<text x="320.00" y="404.40" font-size="11.6" text-anchor="start" fill="#000" font-weight="bold" stroke="#000" stroke-width="0.42">Days after tumor inoculation</text>
<text x="262.5" y="297.8" font-size="11.3" font-weight="bold" stroke="#000" stroke-width="0.42" text-anchor="middle" transform="rotate(-90 262.5 297.8)">Survival (%)</text>
<line x1="294.50" y1="221.50" x2="319.20" y2="221.50" stroke="#000" stroke-width="1.1" stroke-linecap="butt"/>
<line x1="322.70" y1="221.50" x2="322.70" y2="251.80" stroke="#000" stroke-width="1.7" stroke-linecap="butt"/>
<line x1="334.20" y1="221.50" x2="334.20" y2="251.80" stroke="#000" stroke-width="1.7" stroke-linecap="butt"/>
<line x1="345.00" y1="221.50" x2="345.00" y2="251.80" stroke="#000" stroke-width="1.7" stroke-linecap="butt"/>
<line x1="338.00" y1="226.00" x2="338.00" y2="248.00" stroke="#000" stroke-width="1.5" stroke-linecap="butt" stroke-dasharray="1.3 1.4"/>
<line x1="330.40" y1="251.80" x2="330.40" y2="282.20" stroke="#000" stroke-width="1.7" stroke-linecap="butt"/>
<line x1="337.40" y1="251.80" x2="337.40" y2="282.20" stroke="#000" stroke-width="1.7" stroke-linecap="butt"/>
<line x1="344.20" y1="256.00" x2="344.20" y2="278.00" stroke="#000" stroke-width="1.5" stroke-linecap="butt" stroke-dasharray="1.3 1.4"/>
<line x1="332.00" y1="282.20" x2="332.00" y2="312.40" stroke="#000" stroke-width="1.7" stroke-linecap="butt"/>
<line x1="335.80" y1="312.40" x2="335.80" y2="343.00" stroke="#000" stroke-width="1.7" stroke-linecap="butt"/>
<line x1="342.70" y1="343.00" x2="342.70" y2="373.20" stroke="#000" stroke-width="1.7" stroke-linecap="butt"/>
<line x1="355.80" y1="282.20" x2="355.80" y2="312.40" stroke="#000" stroke-width="1.7" stroke-linecap="butt"/>
<line x1="360.40" y1="312.40" x2="360.40" y2="343.00" stroke="#000" stroke-width="1.7" stroke-linecap="butt"/>
<line x1="366.20" y1="286.00" x2="366.20" y2="309.00" stroke="#000" stroke-width="1.5" stroke-linecap="butt" stroke-dasharray="1.3 1.4"/>
<line x1="322.70" y1="251.80" x2="330.40" y2="251.80" stroke="#000" stroke-width="1.7" stroke-linecap="butt"/>
<line x1="345.00" y1="251.80" x2="485.40" y2="251.80" stroke="#000" stroke-width="1.8" stroke-linecap="butt"/>
<line x1="380.80" y1="282.20" x2="474.50" y2="282.20" stroke="#000" stroke-width="1.7" stroke-linecap="butt" stroke-dasharray="1.4 5.6 6.6 6.0"/>
<line x1="370.70" y1="312.50" x2="485.40" y2="312.50" stroke="#000" stroke-width="1.8" stroke-linecap="butt" stroke-dasharray="1.3 1.4"/>
<line x1="360.40" y1="343.00" x2="485.40" y2="343.00" stroke="#000" stroke-width="1.8" stroke-linecap="butt"/>
<rect x="286.80" y="217.70" width="7.70" height="7.70" fill="#111"/>
<rect x="319.20" y="217.70" width="29.60" height="7.70" fill="#111"/>
<rect x="331.00" y="248.00" width="17.80" height="8.00" fill="#111"/>
<rect x="352.30" y="248.00" width="18.00" height="8.00" fill="#111"/>
<polygon points="321.90,249.12 325.87,256.27 317.93,256.27" fill="#fff" stroke="#000" stroke-width="0.85"/>
<polygon points="329.60,247.43 333.07,253.57 326.13,253.57" fill="#fff" stroke="#000" stroke-width="0.85"/>
<polygon points="329.60,279.12 333.57,286.27 325.63,286.27" fill="#fff" stroke="#000" stroke-width="0.85"/>
<polygon points="336.50,277.90 340.90,285.90 332.10,285.90" fill="#000"/>
<polygon points="340.50,277.90 344.90,285.90 336.10,285.90" fill="#000"/>
<polygon points="344.50,277.90 348.90,285.90 340.10,285.90" fill="#000"/>
<polygon points="353.50,278.15 357.65,285.65 349.35,285.65" fill="#000"/>
<polygon points="357.50,278.15 361.65,285.65 353.35,285.65" fill="#000"/>
<rect x="356.55" y="278.75" width="6.50" height="6.50" fill="#fff" stroke="#000" stroke-width="0.9"/>
<circle cx="363.80" cy="282.00" r="3.05" fill="#fff" stroke="#000" stroke-width="0.9"/>
<polygon points="367.60,278.30 371.30,282.00 367.60,285.70 363.90,282.00" fill="#fff" stroke="#000" stroke-width="0.9"/>
<line x1="371.20" y1="282.20" x2="375.80" y2="282.20" stroke="#000" stroke-width="1.7" stroke-linecap="butt"/>
<polygon points="331.50,309.12 335.47,316.27 327.53,316.27" fill="#fff" stroke="#000" stroke-width="0.85"/>
<polygon points="336.00,309.12 339.97,316.27 332.03,316.27" fill="#fff" stroke="#000" stroke-width="0.85"/>
<polygon points="355.50,308.70 359.90,316.70 351.10,316.70" fill="#000"/>
<polygon points="359.50,308.70 363.90,316.70 355.10,316.70" fill="#000"/>
<rect x="363.20" y="309.00" width="7.00" height="7.00" fill="#fff" stroke="#000" stroke-width="1.0"/>
<circle cx="366.7" cy="312.5" r="0.8" fill="#000"/>
<polygon points="335.50,339.43 339.47,346.57 331.53,346.57" fill="#fff" stroke="#000" stroke-width="0.85"/>
<polygon points="339.50,339.43 343.47,346.57 335.53,346.57" fill="#fff" stroke="#000" stroke-width="0.85"/>
<polygon points="343.50,339.43 347.47,346.57 339.53,346.57" fill="#fff" stroke="#000" stroke-width="0.85"/>
<polygon points="360.00,338.70 364.40,346.70 355.60,346.70" fill="#000"/>
<polygon points="366.00,338.70 370.40,346.70 361.60,346.70" fill="#000"/>
<polygon points="339.70,374.50 345.70,374.50 346.90,377.40 338.50,377.40" fill="#fff" stroke="#555" stroke-width="0.9"/>
<rect x="481.40" y="248.30" width="8.00" height="8.00" fill="#000"/>
<polygon points="485.40,278.30 489.40,282.30 485.40,286.30 481.40,282.30" fill="#fff" stroke="#000" stroke-width="1.1"/>
<rect x="481.90" y="309.00" width="7.00" height="7.00" fill="#fff" stroke="#000" stroke-width="1.0"/>
<polygon points="485.40,338.20 489.80,346.20 481.00,346.20" fill="#000"/>
<polygon points="495.50,249.50 496.18,251.27 498.07,251.37 496.59,252.56 497.09,254.38 495.50,253.35 493.91,254.38 494.41,252.56 492.93,251.37 494.82,251.27" fill="#6e6e6e"/>
<polygon points="501.40,249.50 502.08,251.27 503.97,251.37 502.49,252.56 502.99,254.38 501.40,253.35 499.81,254.38 500.31,252.56 498.83,251.37 500.72,251.27" fill="#6e6e6e"/>
<polygon points="496.00,279.40 496.68,281.17 498.57,281.27 497.09,282.46 497.59,284.28 496.00,283.25 494.41,284.28 494.91,282.46 493.43,281.27 495.32,281.17" fill="#6e6e6e"/>
<polygon points="496.00,309.50 496.68,311.27 498.57,311.37 497.09,312.56 497.59,314.38 496.00,313.35 494.41,314.38 494.91,312.56 493.43,311.37 495.32,311.27" fill="#6e6e6e"/>
<polygon points="496.00,339.10 496.68,340.87 498.57,340.97 497.09,342.16 497.59,343.98 496.00,342.95 494.41,343.98 494.91,342.16 493.43,340.97 495.32,340.87" fill="#6e6e6e"/>
<line x1="412.70" y1="211.00" x2="433.00" y2="211.00" stroke="#000" stroke-width="1.5" stroke-linecap="butt"/>
<rect x="420.60" y="208.60" width="4.80" height="4.80" fill="#000"/>
<text x="435.80" y="213.80" font-size="8.1" text-anchor="start" fill="#000" font-weight="bold" stroke="#000" stroke-width="0.3">DKK1-CpG+B7H1</text>
<line x1="412.70" y1="219.60" x2="418.20" y2="219.60" stroke="#000" stroke-width="1.5" stroke-linecap="butt"/>
<line x1="430.50" y1="219.60" x2="433.00" y2="219.60" stroke="#000" stroke-width="1.5" stroke-linecap="butt"/>
<polygon points="423.00,217.20 425.40,219.60 423.00,222.00 420.60,219.60" fill="#fff" stroke="#000" stroke-width="0.8"/>
<text x="435.80" y="222.40" font-size="8.1" text-anchor="start" fill="#000" font-weight="bold" stroke="#000" stroke-width="0.3">DKK1-CpG</text>
<line x1="412.70" y1="228.20" x2="420.00" y2="228.20" stroke="#000" stroke-width="1.4" stroke-linecap="butt" stroke-dasharray="1.4 1.5"/>
<line x1="426.00" y1="228.20" x2="433.00" y2="228.20" stroke="#000" stroke-width="1.4" stroke-linecap="butt" stroke-dasharray="1.4 1.5"/>
<rect x="420.90" y="226.10" width="4.20" height="4.20" fill="#fff" stroke="#000" stroke-width="0.8"/>
<circle cx="423.00" cy="228.20" r="0.7" fill="#000"/>
<text x="435.80" y="231.00" font-size="8.1" text-anchor="start" fill="#000" font-weight="bold" stroke="#000" stroke-width="0.3">CpG+B7H1</text>
<line x1="412.70" y1="236.50" x2="433.00" y2="236.50" stroke="#000" stroke-width="1.5" stroke-linecap="butt"/>
<polygon points="423.00,233.80 425.80,238.60 420.20,238.60" fill="#000"/>
<text x="435.80" y="239.30" font-size="8.1" text-anchor="start" fill="#000" font-weight="bold" stroke="#000" stroke-width="0.3">B7H1 Ab</text>
<line x1="412.70" y1="244.50" x2="433.00" y2="244.50" stroke="#000" stroke-width="1.5" stroke-linecap="butt"/>
<polygon points="423.00,242.20 425.40,246.20 420.60,246.20" fill="#fff" stroke="#000" stroke-width="0.8"/>
<text x="435.80" y="247.30" font-size="8.1" text-anchor="start" fill="#000" font-weight="bold" stroke="#000" stroke-width="0.3">Rat IgG</text>
<text x="243.00" y="436.30" font-size="16.5" text-anchor="start" fill="#000" font-weight="bold" stroke="#000" stroke-width="0.9">F</text>
<line x1="274.80" y1="445.50" x2="274.80" y2="593.10" stroke="#000" stroke-width="2.2" stroke-linecap="butt"/>
<line x1="273.70" y1="592.00" x2="507.60" y2="592.00" stroke="#000" stroke-width="2.2" stroke-linecap="butt"/>
<line x1="271.80" y1="592.00" x2="274.80" y2="592.00" stroke="#000" stroke-width="2.2" stroke-linecap="butt"/>
<text x="264.90" y="595.90" font-size="11" text-anchor="end" fill="#000" font-weight="bold" stroke="#000" stroke-width="0.42">0</text>
<line x1="271.80" y1="562.80" x2="274.80" y2="562.80" stroke="#000" stroke-width="2.2" stroke-linecap="butt"/>
<text x="264.90" y="566.70" font-size="11" text-anchor="end" fill="#000" font-weight="bold" stroke="#000" stroke-width="0.42">20</text>
<line x1="271.80" y1="533.60" x2="274.80" y2="533.60" stroke="#000" stroke-width="2.2" stroke-linecap="butt"/>
<text x="264.90" y="537.50" font-size="11" text-anchor="end" fill="#000" font-weight="bold" stroke="#000" stroke-width="0.42">40</text>
<line x1="271.80" y1="504.40" x2="274.80" y2="504.40" stroke="#000" stroke-width="2.2" stroke-linecap="butt"/>
<text x="264.90" y="508.30" font-size="11" text-anchor="end" fill="#000" font-weight="bold" stroke="#000" stroke-width="0.42">60</text>
<line x1="271.80" y1="475.20" x2="274.80" y2="475.20" stroke="#000" stroke-width="2.2" stroke-linecap="butt"/>
<text x="264.90" y="479.10" font-size="11" text-anchor="end" fill="#000" font-weight="bold" stroke="#000" stroke-width="0.42">80</text>
<line x1="271.80" y1="446.00" x2="274.80" y2="446.00" stroke="#000" stroke-width="2.2" stroke-linecap="butt"/>
<text x="264.90" y="449.90" font-size="11" text-anchor="end" fill="#000" font-weight="bold" stroke="#000" stroke-width="0.42">100</text>
<line x1="274.80" y1="592.00" x2="274.80" y2="595.00" stroke="#000" stroke-width="2.2" stroke-linecap="butt"/>
<text x="274.80" y="609.00" font-size="11" text-anchor="middle" fill="#000" font-weight="bold" stroke="#000" stroke-width="0.42">0</text>
<line x1="321.16" y1="592.00" x2="321.16" y2="595.00" stroke="#000" stroke-width="2.2" stroke-linecap="butt"/>
<text x="321.16" y="609.00" font-size="11" text-anchor="middle" fill="#000" font-weight="bold" stroke="#000" stroke-width="0.42">20</text>
<line x1="367.52" y1="592.00" x2="367.52" y2="595.00" stroke="#000" stroke-width="2.2" stroke-linecap="butt"/>
<text x="367.52" y="609.00" font-size="11" text-anchor="middle" fill="#000" font-weight="bold" stroke="#000" stroke-width="0.42">40</text>
<line x1="413.88" y1="592.00" x2="413.88" y2="595.00" stroke="#000" stroke-width="2.2" stroke-linecap="butt"/>
<text x="413.88" y="609.00" font-size="11" text-anchor="middle" fill="#000" font-weight="bold" stroke="#000" stroke-width="0.42">60</text>
<line x1="460.24" y1="592.00" x2="460.24" y2="595.00" stroke="#000" stroke-width="2.2" stroke-linecap="butt"/>
<text x="460.24" y="609.00" font-size="11" text-anchor="middle" fill="#000" font-weight="bold" stroke="#000" stroke-width="0.42">80</text>
<line x1="506.60" y1="592.00" x2="506.60" y2="595.00" stroke="#000" stroke-width="2.2" stroke-linecap="butt"/>
<text x="506.60" y="609.00" font-size="11" text-anchor="middle" fill="#000" font-weight="bold" stroke="#000" stroke-width="0.42">100</text>
<text x="315.40" y="624.20" font-size="11.2" text-anchor="start" fill="#000" font-weight="bold" stroke="#000" stroke-width="0.42">Days after tumor inoculation</text>
<text x="248.0" y="519.3" font-size="10.8" font-weight="bold" stroke="#000" stroke-width="0.42" text-anchor="middle" transform="rotate(-90 248.0 519.3)">Survival (%)</text>
<line x1="278.50" y1="446.00" x2="308.20" y2="446.00" stroke="#000" stroke-width="1.1" stroke-linecap="butt"/>
<line x1="311.80" y1="446.00" x2="311.80" y2="475.50" stroke="#000" stroke-width="1.7" stroke-linecap="butt"/>
<line x1="323.80" y1="446.00" x2="323.80" y2="475.50" stroke="#000" stroke-width="1.7" stroke-linecap="butt"/>
<line x1="349.20" y1="446.00" x2="349.20" y2="475.50" stroke="#000" stroke-width="1.7" stroke-linecap="butt"/>
<line x1="327.20" y1="450.00" x2="327.20" y2="472.00" stroke="#000" stroke-width="1.5" stroke-linecap="butt" stroke-dasharray="2.5 2.5"/>
<line x1="332.80" y1="450.00" x2="332.80" y2="502.00" stroke="#000" stroke-width="1.5" stroke-linecap="butt" stroke-dasharray="4 2.5"/>
<line x1="316.20" y1="475.50" x2="316.20" y2="505.20" stroke="#000" stroke-width="1.7" stroke-linecap="butt"/>
<line x1="328.20" y1="475.50" x2="328.20" y2="505.20" stroke="#000" stroke-width="1.7" stroke-linecap="butt"/>
<line x1="348.90" y1="479.00" x2="348.90" y2="502.00" stroke="#000" stroke-width="1.5" stroke-linecap="butt" stroke-dasharray="4 2.5"/>
<line x1="321.00" y1="505.20" x2="321.00" y2="534.20" stroke="#000" stroke-width="1.7" stroke-linecap="butt"/>
<line x1="339.70" y1="505.20" x2="339.70" y2="534.20" stroke="#000" stroke-width="1.7" stroke-linecap="butt"/>
<line x1="370.00" y1="509.00" x2="370.00" y2="531.00" stroke="#000" stroke-width="1.5" stroke-linecap="butt" stroke-dasharray="4 2.5"/>
<line x1="323.00" y1="534.20" x2="323.00" y2="563.50" stroke="#000" stroke-width="1.7" stroke-linecap="butt"/>
<line x1="356.20" y1="534.20" x2="356.20" y2="563.50" stroke="#000" stroke-width="1.7" stroke-linecap="butt"/>
<line x1="330.50" y1="563.50" x2="330.50" y2="592.00" stroke="#000" stroke-width="1.7" stroke-linecap="butt"/>
<line x1="349.20" y1="475.50" x2="484.00" y2="475.50" stroke="#000" stroke-width="1.8" stroke-linecap="butt"/>
<line x1="379.70" y1="505.20" x2="476.00" y2="505.20" stroke="#000" stroke-width="1.7" stroke-linecap="butt" stroke-dasharray="1.4 5.2 6.9 5.1"/>
<line x1="373.00" y1="534.20" x2="481.00" y2="534.20" stroke="#000" stroke-width="1.8" stroke-linecap="butt" stroke-dasharray="4 1.9"/>
<line x1="356.20" y1="563.50" x2="484.00" y2="563.50" stroke="#000" stroke-width="1.8" stroke-linecap="butt"/>
<line x1="339.70" y1="534.20" x2="356.20" y2="534.20" stroke="#000" stroke-width="1.7" stroke-linecap="butt"/>
<line x1="360.00" y1="505.20" x2="366.50" y2="505.20" stroke="#000" stroke-width="1.6" stroke-linecap="butt" stroke-dasharray="4 2"/>
<rect x="271.50" y="442.50" width="7.00" height="7.20" fill="#111"/>
<rect x="308.20" y="442.00" width="35.30" height="8.00" fill="#111"/>
<rect x="345.60" y="442.20" width="7.00" height="7.60" fill="#111"/>
<rect x="345.40" y="472.00" width="14.60" height="7.50" fill="#111"/>
<rect x="366.20" y="472.00" width="7.60" height="7.50" fill="#111"/>
<polygon points="311.00,472.12 314.97,479.27 307.03,479.27" fill="#fff" stroke="#000" stroke-width="0.85"/>
<polygon points="316.50,472.12 320.47,479.27 312.53,479.27" fill="#fff" stroke="#000" stroke-width="0.85"/>
<polygon points="323.00,471.20 327.40,479.20 318.60,479.20" fill="#000"/>
<polygon points="327.50,471.20 331.90,479.20 323.10,479.20" fill="#000"/>
<polygon points="334.00,472.00 337.50,475.50 334.00,479.00 330.50,475.50" fill="#fff" stroke="#000" stroke-width="0.85"/>
<rect x="336.25" y="472.25" width="6.50" height="6.50" fill="#fff" stroke="#000" stroke-width="1.0"/>
<polygon points="316.50,501.62 320.47,508.77 312.53,508.77" fill="#fff" stroke="#000" stroke-width="0.85"/>
<polygon points="320.50,501.62 324.47,508.77 316.53,508.77" fill="#fff" stroke="#000" stroke-width="0.85"/>
<polygon points="328.50,500.90 332.90,508.90 324.10,508.90" fill="#000"/>
<polygon points="333.00,500.90 337.40,508.90 328.60,508.90" fill="#000"/>
<polygon points="337.50,500.90 341.90,508.90 333.10,508.90" fill="#000"/>
<polygon points="341.00,500.90 345.40,508.90 336.60,508.90" fill="#000"/>
<rect x="346.25" y="501.95" width="6.50" height="6.50" fill="#fff" stroke="#000" stroke-width="1.0"/>
<rect x="352.75" y="501.95" width="6.50" height="6.50" fill="#fff" stroke="#000" stroke-width="1.0"/>
<rect x="366.75" y="501.95" width="6.50" height="6.50" fill="#fff" stroke="#000" stroke-width="1.0"/>
<polygon points="320.50,530.62 324.47,537.78 316.53,537.78" fill="#fff" stroke="#000" stroke-width="0.85"/>
<polygon points="325.00,530.62 328.97,537.78 321.03,537.78" fill="#fff" stroke="#000" stroke-width="0.85"/>
<polygon points="339.70,529.90 344.10,537.90 335.30,537.90" fill="#000"/>
<polygon points="349.00,529.90 353.40,537.90 344.60,537.90" fill="#000"/>
<polygon points="356.60,529.90 361.00,537.90 352.20,537.90" fill="#000"/>
<rect x="366.25" y="530.55" width="6.50" height="6.50" fill="#fff" stroke="#000" stroke-width="1.0"/>
<polygon points="323.00,559.62 326.97,566.78 319.03,566.78" fill="#fff" stroke="#000" stroke-width="0.85"/>
<polygon points="330.00,559.62 333.97,566.78 326.03,566.78" fill="#fff" stroke="#000" stroke-width="0.85"/>
<polygon points="356.20,559.20 360.60,567.20 351.80,567.20" fill="#000"/>
<polygon points="370.00,559.20 374.40,567.20 365.60,567.20" fill="#000"/>
<polygon points="327.80,593.30 333.80,593.30 335.00,596.20 326.60,596.20" fill="#fff" stroke="#555" stroke-width="0.9"/>
<rect x="480.20" y="471.50" width="8.00" height="8.00" fill="#000"/>
<polygon points="484.00,501.00 488.00,505.00 484.00,509.00 480.00,505.00" fill="#fff" stroke="#000" stroke-width="1.1"/>
<rect x="480.95" y="530.55" width="6.50" height="6.50" fill="#fff" stroke="#000" stroke-width="1.0"/>
<polygon points="484.20,558.50 488.60,566.50 479.80,566.50" fill="#000"/>
<polygon points="494.00,472.80 494.68,474.57 496.57,474.67 495.09,475.86 495.59,477.68 494.00,476.65 492.41,477.68 492.91,475.86 491.43,474.67 493.32,474.57" fill="#6e6e6e"/>
<polygon points="499.90,472.80 500.58,474.57 502.47,474.67 500.99,475.86 501.49,477.68 499.90,476.65 498.31,477.68 498.81,475.86 497.33,474.67 499.22,474.57" fill="#6e6e6e"/>
<polygon points="494.00,503.10 494.68,504.87 496.57,504.97 495.09,506.16 495.59,507.98 494.00,506.95 492.41,507.98 492.91,506.16 491.43,504.97 493.32,504.87" fill="#6e6e6e"/>
<polygon points="499.90,503.10 500.58,504.87 502.47,504.97 500.99,506.16 501.49,507.98 499.90,506.95 498.31,507.98 498.81,506.16 497.33,504.97 499.22,504.87" fill="#6e6e6e"/>
<polygon points="496.25,531.90 496.93,533.67 498.82,533.77 497.34,534.96 497.84,536.78 496.25,535.75 494.66,536.78 495.16,534.96 493.68,533.77 495.57,533.67" fill="#6e6e6e"/>
<polygon points="496.25,561.50 496.93,563.27 498.82,563.37 497.34,564.56 497.84,566.38 496.25,565.35 494.66,566.38 495.16,564.56 493.68,563.37 495.57,563.27" fill="#6e6e6e"/>
<line x1="417.50" y1="429.50" x2="438.00" y2="429.50" stroke="#000" stroke-width="1.5" stroke-linecap="butt"/>
<rect x="425.10" y="427.10" width="4.80" height="4.80" fill="#000"/>
<text x="440.70" y="432.30" font-size="7.7" text-anchor="start" fill="#000" font-weight="bold" stroke="#000" stroke-width="0.3">DKK1-CpG+OX40</text>
<line x1="417.50" y1="439.20" x2="423.00" y2="439.20" stroke="#000" stroke-width="1.5" stroke-linecap="butt"/>
<line x1="435.50" y1="439.20" x2="438.00" y2="439.20" stroke="#000" stroke-width="1.5" stroke-linecap="butt"/>
<polygon points="427.50,436.80 429.90,439.20 427.50,441.60 425.10,439.20" fill="#fff" stroke="#000" stroke-width="0.8"/>
<text x="440.70" y="442.00" font-size="7.7" text-anchor="start" fill="#000" font-weight="bold" stroke="#000" stroke-width="0.3">DKK1-CpG</text>
<line x1="417.50" y1="448.80" x2="420.80" y2="448.80" stroke="#000" stroke-width="1.5" stroke-linecap="butt"/>
<line x1="430.00" y1="448.80" x2="436.00" y2="448.80" stroke="#000" stroke-width="1.5" stroke-linecap="butt"/>
<rect x="425.40" y="446.70" width="4.20" height="4.20" fill="#fff" stroke="#000" stroke-width="0.8"/>
<line x1="425.50" y1="448.80" x2="429.50" y2="448.80" stroke="#000" stroke-width="0.8" stroke-linecap="butt"/>
<text x="440.70" y="451.60" font-size="7.7" text-anchor="start" fill="#000" font-weight="bold" stroke="#000" stroke-width="0.3">CpG+OX40</text>
<line x1="417.50" y1="458.50" x2="438.00" y2="458.50" stroke="#000" stroke-width="1.5" stroke-linecap="butt"/>
<polygon points="427.50,455.80 430.30,460.60 424.70,460.60" fill="#000"/>
<text x="440.70" y="461.30" font-size="7.7" text-anchor="start" fill="#000" font-weight="bold" stroke="#000" stroke-width="0.3">OX40 Ab</text>
<line x1="417.50" y1="468.20" x2="438.00" y2="468.20" stroke="#000" stroke-width="1.5" stroke-linecap="butt"/>
<polygon points="427.50,465.90 429.90,469.90 425.10,469.90" fill="#fff" stroke="#000" stroke-width="0.8"/>
<text x="440.70" y="471.00" font-size="7.7" text-anchor="start" fill="#000" font-weight="bold" stroke="#000" stroke-width="0.3">Rat IgG</text>
</svg></body></html>
